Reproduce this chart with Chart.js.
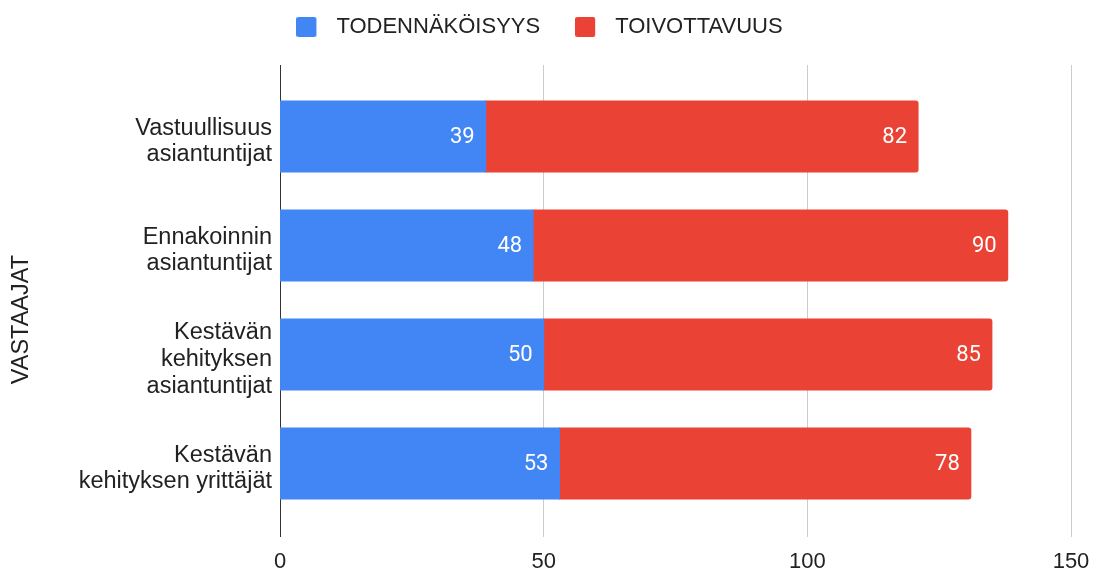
<!DOCTYPE html>
<html><head><meta charset="utf-8">
<script src="https://cdn.jsdelivr.net/npm/chart.js@4/dist/chart.umd.min.js"></script>
<style>html,body{margin:0;padding:0;background:#fff}canvas{display:block}</style>
</head><body>
<canvas id="c" width="1095" height="571"></canvas>
<script>
const categories = [
  ['Vastuullisuus', 'asiantuntijat'],
  ['Ennakoinnin', 'asiantuntijat'],
  ['Kestävän', 'kehityksen', 'asiantuntijat'],
  ['Kestävän', 'kehityksen yrittäjät']
];
const seriesNames = ['TODENNÄKÖISYYS', 'TOIVOTTAVUUS'];
const todennakoisyys = [39, 48, 50, 53];
const toivottavuus = [82, 90, 85, 78];
const xTicks = [0, 50, 100, 150];
const yAxisTitle = 'VASTAAJAT';

const BLUE = '#4285F4', RED = '#EA4335', GRID = '#cccccc', BASE = '#333333', TEXT = '#222222';
const LABEL_FONT = 'Liberation Sans';

const gridColor = ctx => (ctx.tick && ctx.tick.value === 0) ? BASE : GRID;
const setTicks = s => { s.ticks = xTicks.map(v => ({ value: v })); };

// legend swatch: 20x20 rounded square, drawn in a 29px-wide slot
function swatch(color) {
  const c = document.createElement('canvas');
  c.width = 29; c.height = 20;
  const g = c.getContext('2d');
  g.fillStyle = color;
  g.beginPath();
  if (g.roundRect) g.roundRect(0, 0, 20, 20, 2); else g.rect(0, 0, 20, 20);
  g.fill();
  return c;
}

const valueLabels = {
  id: 'valueLabels',
  afterDatasetsDraw(chart) {
    const ctx = chart.ctx;
    ctx.save();
    ctx.font = '22px Roboto';
    ctx.fillStyle = '#ffffff';
    ctx.textAlign = 'right';
    ctx.textBaseline = 'middle';
    chart.data.datasets.forEach((ds, i) => {
      chart.getDatasetMeta(i).data.forEach((bar, j) => {
        ctx.fillText(String(ds.data[j]), bar.x - 11, bar.y + 1);
      });
    });
    ctx.restore();
  }
};

new Chart(document.getElementById('c'), {
  type: 'bar',
  data: {
    labels: categories,
    datasets: [
      { label: seriesNames[0], data: todennakoisyys, backgroundColor: BLUE, borderRadius: 3, borderWidth: 0,
        categoryPercentage: 0.651, barPercentage: 1, inflateAmount: 0.5, pointStyle: swatch(BLUE) },
      { label: seriesNames[1], data: toivottavuus, backgroundColor: RED, borderRadius: 3, borderWidth: 0,
        categoryPercentage: 0.651, barPercentage: 1, inflateAmount: 0.5, pointStyle: swatch(RED) }
    ]
  },
  options: {
    indexAxis: 'y',
    responsive: false,
    animation: false,
    layout: { padding: { top: -19, right: 16, left: 0, bottom: 0 } },
    plugins: {
      legend: {
        position: 'top',
        labels: {
          usePointStyle: true, pointStyleWidth: 29, boxHeight: 20, padding: 35,
          font: { family: LABEL_FONT, size: 22 }, color: TEXT
        }
      },
      tooltip: { enabled: false }
    },
    scales: {
      x: {
        type: 'linear', position: 'bottom', stacked: true, min: 0, max: 150,
        afterBuildTicks: setTicks,
        afterFit: s => { s.height = 53; s.paddingRight = 24; s.paddingLeft = 0; },
        grid: { color: gridColor, tickColor: gridColor, tickLength: 19, lineWidth: 1 },
        border: { display: false },
        ticks: { font: { family: LABEL_FONT, size: 22 }, color: TEXT, padding: 12 }
      },
      x2: {
        type: 'linear', position: 'top', min: 0, max: 150,
        afterBuildTicks: setTicks,
        afterFit: s => { s.height = 34; s.paddingRight = 0; s.paddingLeft = 0; },
        grid: { drawOnChartArea: false, color: gridColor, tickColor: gridColor, tickLength: 17 },
        border: { display: false },
        ticks: { display: false }
      },
      y: {
        type: 'category', stacked: true,
        afterFit: s => { s.width = 280; },
        grid: { display: false, drawTicks: false },
        border: { display: false },
        ticks: { font: { family: LABEL_FONT, size: 23.5, lineHeight: 1.14 }, color: TEXT, padding: 8, labelOffset: 5 },
        title: {
          display: true, text: yAxisTitle + '      ',
          font: { family: LABEL_FONT, size: 23.5 }, color: TEXT,
          padding: { top: 7, bottom: 0 }
        }
      }
    }
  },
  plugins: [valueLabels]
});
</script>
</body></html>
